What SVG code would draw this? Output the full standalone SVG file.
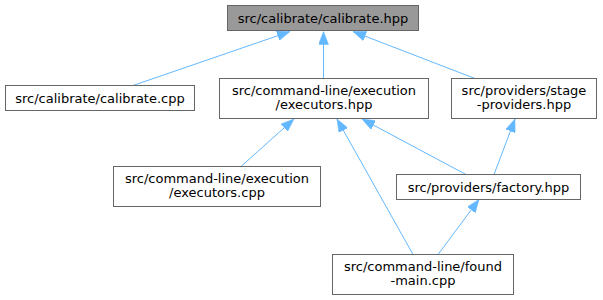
<svg xmlns="http://www.w3.org/2000/svg" width="603" height="300" viewBox="0 0 603 300">
  <style>
    .box { fill: #ffffff; stroke: #666666; stroke-width: 1; }
    .root { fill: #999999; stroke: #666666; stroke-width: 1; }
    text { font-family: "DejaVu Sans", "Liberation Sans", sans-serif; font-size: 13px; fill: #000000; text-anchor: middle; }
    .edge { stroke: #63b8ff; stroke-width: 1; fill: none; marker-end: url(#head); }
  </style>
  <defs>
    <marker id="head" viewBox="0 0 13 10" refX="13" refY="5" markerWidth="13" markerHeight="10" markerUnits="userSpaceOnUse" orient="auto">
      <path d="M0,0 L13,5 L0,10 Z" fill="#63b8ff" stroke="#63b8ff" stroke-width="0.5"/>
    </marker>
  </defs>

  <!-- include dependency edges -->
  <g id="edges">
    <line class="edge" x1="133" y1="85.5" x2="290" y2="31.5"/>
    <line class="edge" x1="323.5" y1="78.5" x2="323.5" y2="31.5"/>
    <line class="edge" x1="475" y1="78.5" x2="353" y2="31.5"/>
    <line class="edge" x1="241" y1="166.5" x2="294" y2="119"/>
    <line class="edge" x1="413" y1="254.5" x2="337" y2="119"/>
    <line class="edge" x1="466" y1="174.5" x2="362" y2="119"/>
    <line class="edge" x1="494" y1="174.5" x2="515" y2="119"/>
    <line class="edge" x1="438" y1="254.5" x2="479" y2="199.5"/>
  </g>

  <g id="calibrate_hpp">
    <rect class="root" x="227.5" y="5.5" width="191" height="25"/>
    <text x="323" y="22.5">src/calibrate/calibrate.hpp</text>
  </g>

  <g id="calibrate_cpp">
    <rect class="box" x="5.5" y="85.5" width="189" height="25"/>
    <text x="100" y="102.5">src/calibrate/calibrate.cpp</text>
  </g>

  <g id="executors_hpp">
    <rect class="box" x="219.5" y="78.5" width="209" height="40"/>
    <text x="324" y="95">src/command-line/execution</text>
    <text x="324" y="109">/executors.hpp</text>
  </g>

  <g id="stage_providers_hpp">
    <rect class="box" x="451.5" y="78.5" width="145" height="40"/>
    <text x="524" y="95">src/providers/stage</text>
    <text x="524" y="109">-providers.hpp</text>
  </g>

  <g id="executors_cpp">
    <rect class="box" x="113.5" y="166.5" width="207" height="40"/>
    <text x="217" y="183">src/command-line/execution</text>
    <text x="217" y="197">/executors.cpp</text>
  </g>

  <g id="factory_hpp">
    <rect class="box" x="396.5" y="174.5" width="184" height="25"/>
    <text x="488.5" y="191.5">src/providers/factory.hpp</text>
  </g>

  <g id="found_main_cpp">
    <rect class="box" x="332.5" y="254.5" width="181" height="40"/>
    <text x="423" y="271">src/command-line/found</text>
    <text x="423" y="285">-main.cpp</text>
  </g>
</svg>
